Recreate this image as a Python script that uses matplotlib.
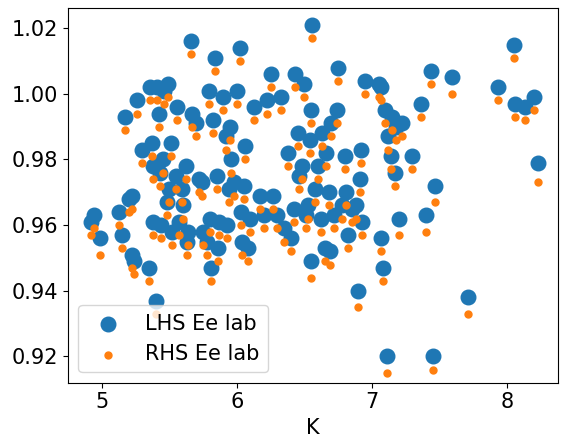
import matplotlib
matplotlib.use("Agg")
import matplotlib.pyplot as plt

K = [4.92,4.94,4.99,5.13,5.15,5.17,5.2,5.22,5.22,5.24,5.26,5.3,5.35,5.36,5.37,5.38,5.38,5.4,5.41,5.42,
     5.43,5.44,5.45,5.46,5.48,5.49,5.5,5.51,5.52,5.55,5.56,5.57,5.59,5.6,5.62,5.63,5.64,5.66,5.67,5.7,
     5.72,5.74,5.75,5.78,5.79,5.8,5.81,5.82,5.84,5.85,5.86,5.87,5.9,5.92,5.93,5.94,5.95,5.96,5.98,6.0,
     6.02,6.03,6.04,6.05,6.06,6.08,6.1,6.13,6.17,6.2,6.22,6.25,6.27,6.3,6.33,6.35,6.38,6.4,6.42,6.43,
     6.45,6.46,6.48,6.5,6.51,6.53,6.54,6.55,6.55,6.56,6.58,6.6,6.62,6.63,6.65,6.66,6.68,6.69,6.7,6.72,
     6.74,6.75,6.78,6.8,6.81,6.82,6.85,6.88,6.9,6.91,6.92,6.93,6.95,7.05,7.07,7.07,7.08,7.1,7.11,7.12,
     7.14,7.15,7.17,7.18,7.2,7.22,7.3,7.36,7.4,7.44,7.45,7.47,7.59,7.71,7.93,8.05,8.06,8.13,8.2,8.23]
lhs = [0.961,0.963,0.956,0.964,0.957,0.993,0.968,0.969,0.951,0.949,0.998,0.983,0.947,1.002,0.985,0.961,0.978,0.937,1.002,0.994,
       0.976,0.960,0.980,1.001,0.967,1.003,0.971,0.985,0.958,0.975,0.996,0.961,0.971,0.966,0.978,0.955,0.958,1.016,0.994,0.991,
       0.974,0.973,0.958,0.955,1.001,0.962,0.947,0.992,1.011,0.975,0.953,0.961,0.999,0.987,0.960,0.971,0.990,0.980,0.973,1.001,
       1.014,0.964,0.955,0.972,0.984,0.953,0.962,0.996,0.969,0.963,0.998,1.006,0.969,0.963,0.999,0.959,0.982,0.956,0.965,1.006,
       0.988,0.975,0.978,1.003,0.963,0.966,0.986,0.995,0.949,1.021,0.971,0.978,0.962,0.988,0.953,0.982,0.970,0.952,0.991,0.963,
       0.995,1.008,0.966,0.981,0.970,0.957,0.965,0.966,0.940,0.974,0.983,0.961,1.004,1.003,1.002,0.956,0.947,0.995,0.920,0.987,
       0.981,0.993,0.976,0.990,0.962,0.991,0.981,0.997,0.963,1.007,0.920,0.972,1.005,0.938,1.002,1.015,0.997,0.996,0.999,0.979]
rhs = [0.957,0.959,0.951,0.960,0.953,0.989,0.964,0.965,0.947,0.945,0.994,0.979,0.943,0.998,0.981,0.957,0.974,0.933,0.998,0.990,
       0.972,0.956,0.976,0.997,0.963,0.999,0.967,0.981,0.954,0.971,0.992,0.957,0.967,0.962,0.974,0.951,0.954,1.012,0.990,0.987,
       0.970,0.969,0.954,0.951,0.997,0.958,0.943,0.988,1.007,0.971,0.949,0.957,0.995,0.983,0.956,0.967,0.986,0.976,0.969,0.997,
       1.010,0.960,0.951,0.968,0.980,0.949,0.958,0.992,0.965,0.959,0.994,1.002,0.965,0.959,0.995,0.955,0.978,0.952,0.961,1.002,
       0.984,0.971,0.974,0.999,0.959,0.962,0.982,0.991,0.944,1.017,0.967,0.974,0.958,0.984,0.949,0.978,0.966,0.948,0.987,0.959,
       0.991,1.004,0.962,0.977,0.966,0.953,0.961,0.962,0.935,0.970,0.979,0.957,1.000,0.999,0.998,0.952,0.943,0.991,0.915,0.983,
       0.977,0.989,0.972,0.986,0.957,0.987,0.977,0.993,0.958,1.003,0.916,0.967,1.000,0.933,0.998,1.011,0.993,0.992,0.995,0.973]

plt.rcParams['font.size'] = 15
fig = plt.figure(figsize=(5.72, 4.44), dpi=100)
ax = fig.add_axes([0.119, 0.138, 0.857, 0.843])
ax.scatter(K, lhs, s=110, color='#1f77b4', label='LHS Ee lab')
ax.scatter(K, rhs, s=25, color='#ff7f0e', label='RHS Ee lab')
ax.set_xlim(4.75, 8.38)
ax.set_ylim(0.912, 1.026)
ax.set_xticks([5, 6, 7, 8])
ax.set_yticks([0.92, 0.94, 0.96, 0.98, 1.00, 1.02])
ax.set_xlabel('K')
ax.legend(loc='lower left')
fig.savefig('out.png')
